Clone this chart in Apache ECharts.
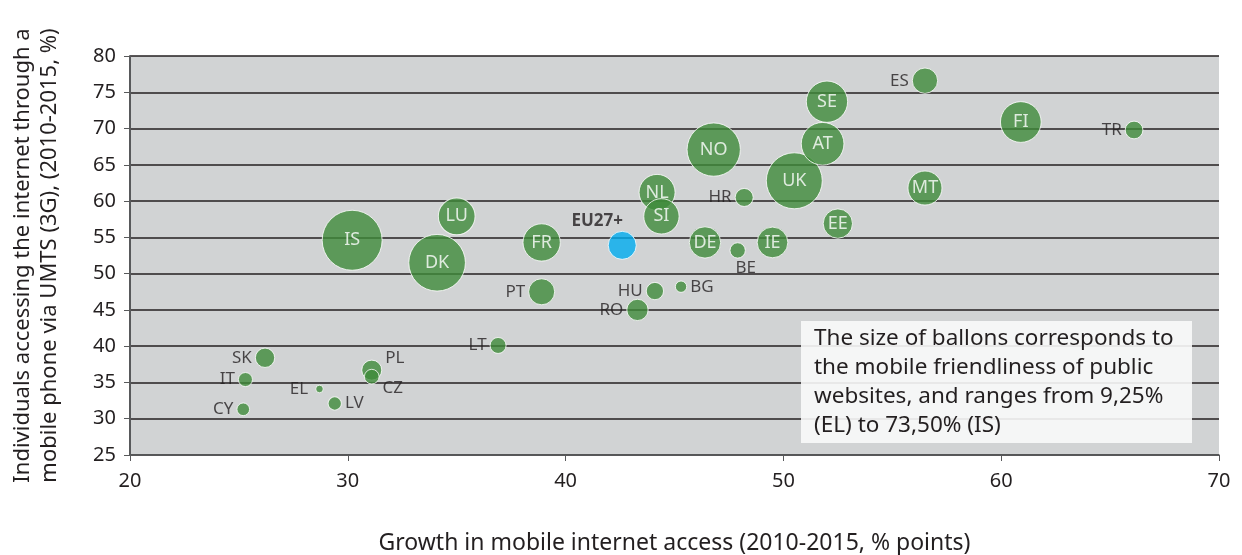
<!DOCTYPE html>
<html lang="en" style="height: 100%">
<head>
  <meta charset="utf-8">
</head>
<body style="height: 100%; margin: 0">
  <div id="container" style="width: 1242px; height: 555px"></div>

  <script type="text/javascript" src="https://fastly.jsdelivr.net/npm/echarts@6/dist/echarts.min.js"></script>
  <script type="text/javascript">
    // country codes, growth in mobile access (x), 3G access (y), mobile friendliness (bubble size)
    var countries = ['IS', 'DK', 'NO', 'UK', 'AT', 'SE', 'FI', 'FR', 'LU', 'NL', 'SI', 'MT', 'DE', 'IE', 'EE',
                     'ES', 'PT', 'RO', 'PL', 'SK', 'HR', 'TR', 'HU', 'LT', 'BE', 'CZ', 'IT', 'LV', 'CY', 'BG', 'EL'];
    var growth = [30.2, 34.1, 46.8, 50.5, 51.8, 52.0, 60.9, 38.9, 35.0, 44.2, 44.4, 56.5, 46.4, 49.5, 52.5,
                  56.5, 38.9, 43.3, 31.1, 26.2, 48.2, 66.1, 44.1, 36.9, 47.9, 31.1, 25.3, 29.4, 25.2, 45.3, 28.7];
    var access = [54.6, 51.5, 67.1, 62.8, 67.9, 73.7, 70.9, 54.3, 57.9, 61.2, 57.9, 61.8, 54.3, 54.3, 56.9,
                  76.6, 47.5, 45.0, 36.7, 38.4, 60.5, 69.8, 47.6, 40.1, 53.2, 35.8, 35.4, 32.1, 31.3, 48.2, 34.1];
    var friendliness = [73.5, 69.4, 65.3, 68.6, 52.3, 50.6, 49.9, 45.7, 45.0, 44.1, 43.3, 41.7, 38.4, 37.6, 35.9,
                        31.0, 31.9, 26.1, 24.5, 23.7, 22.1, 21.7, 21.2, 19.6, 18.8, 18.0, 17.2, 16.3, 15.5, 13.9, 9.25];
    var euLabel = 'EU27+';
    var euPoint = [42.6, 53.9, 34.3];

    // outside label placement per small bubble
    var outside = {
      ES: ['left', [0, 0]], PT: ['left', [0, 0]], RO: ['left', [0, 0]], PL: ['right', [0, -12]],
      SK: ['left', [0, 0]], HR: ['left', [0, 0]], TR: ['left', [0, 0]], HU: ['left', [0, 0]],
      LT: ['left', [0, 0]], BE: ['bottom', [8, -2]], CZ: ['right', [0, 12]], IT: ['left', [0, 0]],
      LV: ['right', [0, 0]], CY: ['left', [0, 0]], BG: ['right', [0, 0]], EL: ['left', [-4, 0]]
    };

    var dom = document.getElementById('container');
    var myChart = echarts.init(dom, null, { renderer: 'canvas' });
    var font = 'Noto Sans';

    var points = countries.map(function (c, i) {
      var item = { name: c, value: [growth[i], access[i], friendliness[i]] };
      if (outside[c]) {
        item.label = {
          position: outside[c][0],
          offset: outside[c][1],
          distance: 3,
          color: '#231f20',
          fontSize: 17
        };
      }
      return item;
    });

    var option = {
      animation: false,
      grid: {
        left: 130,
        right: 23,
        top: 56,
        bottom: 100,
        outerBoundsMode: 'none',
        show: true,
        backgroundColor: '#d1d3d4',
        borderWidth: 0
      },
      xAxis: {
        type: 'value',
        min: 20,
        max: 70,
        interval: 10,
        name: 'Growth in mobile internet access (2010-2015, % points)',
        nameLocation: 'middle',
        nameGap: 77,
        nameTextStyle: { fontFamily: font, fontSize: 23, color: '#231f20' },
        axisLine: { show: true, lineStyle: { color: '#58595b', width: 1.5 } },
        axisTick: { show: true, length: 6, lineStyle: { color: '#58595b' } },
        axisLabel: { fontFamily: font, fontSize: 20, color: '#231f20', margin: 16 },
        splitLine: { show: false }
      },
      yAxis: {
        type: 'value',
        min: 25,
        max: 80,
        interval: 5,
        name: 'Individuals accessing the internet through a\nmobile phone via UMTS (3G), (2010-2015, %)',
        nameLocation: 'middle',
        nameGap: 67,
        nameTextStyle: { fontFamily: font, fontSize: 22, color: '#231f20', lineHeight: 27 },
        axisLine: { show: true, lineStyle: { color: '#58595b', width: 2 } },
        axisTick: { show: true, length: 6, lineStyle: { color: '#58595b' } },
        axisLabel: { fontFamily: font, fontSize: 20, color: '#231f20', margin: 14 },
        splitLine: { show: true, lineStyle: { color: '#231f20', width: 1.5 } }
      },
      graphic: [
        {
          type: 'rect',
          shape: { x: 801, y: 321, width: 391, height: 122 },
          style: { fill: 'rgba(248,249,249,0.9)' },
          z: 10
        },
        {
          type: 'text',
          x: 814,
          y: 324,
          style: {
            text: 'The size of ballons corresponds to\nthe mobile friendliness of public\nwebsites, and ranges from 9,25%\n(EL) to 73,50% (IS)',
            font: '22.5px "Noto Sans"',
            lineHeight: 29,
            fill: '#231f20'
          },
          z: 11
        }
      ],
      series: [
        {
          type: 'scatter',
          data: points,
          symbolSize: function (val) { return val[2] * 0.816; },
          itemStyle: { color: '#3e8b3a', borderColor: '#ffffff', borderWidth: 1 },
          label: {
            show: true,
            position: 'inside',
            formatter: '{b}',
            color: '#ffffff',
            fontFamily: font,
            fontSize: 18
          }
        },
        {
          type: 'scatter',
          data: [{ name: euLabel, value: euPoint }],
          symbolSize: function (val) { return val[2] * 0.816; },
          itemStyle: { color: '#00adef', borderColor: '#ffffff', borderWidth: 1 },
          label: {
            show: true,
            position: 'top',
            offset: [-25, 4],
            formatter: '{b}',
            color: '#231f20',
            fontFamily: font,
            fontSize: 17,
            fontWeight: 'bold'
          }
        }
      ]
    };

    myChart.setOption(option);
    window.addEventListener('resize', myChart.resize);
  </script>
</body>
</html>
